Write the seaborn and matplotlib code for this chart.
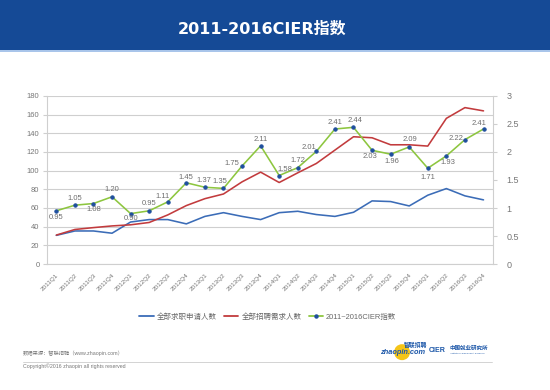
import matplotlib
matplotlib.use("Agg")
import matplotlib.pyplot as plt
from matplotlib.patches import Rectangle, Ellipse
from matplotlib.lines import Line2D
import seaborn as sns
import pandas as pd

# data
quarters = [f"{y}Q{q}" for y in range(2011, 2017) for q in range(1, 5)]
applicants = [30.7, 35.4, 35.4, 33, 45, 47.6, 47.6, 43, 51, 55, 51, 47.6,
              55, 56.5, 53, 51, 55.4, 67.6, 66.9, 62.2, 73.7, 80.8, 73, 68.7]
demand = [31, 37, 39, 40.8, 42, 44.5, 52.6, 62.6, 70, 75, 88, 98.4,
          87.3, 97.7, 107.7, 122, 136.3, 135.2, 127.7, 127.7, 126.3, 156, 167.5, 164]
cier = [0.95, 1.05, 1.08, 1.20, 0.90, 0.95, 1.11, 1.45, 1.37, 1.35, 1.75, 2.11,
        1.58, 1.72, 2.01, 2.41, 2.44, 2.03, 1.96, 2.09, 1.71, 1.93, 2.22, 2.41]
# label offsets (points) for the index annotations
label_off = [(0, -4.5), (0, 4.5), (0, -4.5), (0, 5), (0, -3.5), (0, 5),
             (-3.4, 3.6), (0, 4), (-0.7, 4.8), (-2.4, 4.8), (-7.2, 2), (0, 4.8),
             (4.3, 4.3), (0, 4.8), (-5, 3), (0, 4.8), (1, 4.8), (-1.2, -4.5),
             (0.7, -5.5), (0.5, 5), (0, -7), (1, -4.8), (-6.5, 1), (-3, 4)]

df = pd.DataFrame({"x": range(len(quarters)), "q": quarters,
                   "applicants": applicants, "demand": demand, "cier": cier})

sns.set_style("white")
plt.rcParams['font.family'] = ['Liberation Sans', 'Noto Sans CJK SC']

c_blue = "#3b6cb7"
c_red = "#c23b3d"
c_green = "#8dc63f"
c_dot = "#1f4f9e"
c_grid = "#cfcfcf"
c_text = "#777777"

fig = plt.figure(figsize=(5.5, 3.9), dpi=100)
fig.patch.set_facecolor("white")

# header bar
fig.add_artist(Rectangle((0, 0.872), 1, 0.128, transform=fig.transFigure,
                         facecolor="#154a96", edgecolor="none"))
fig.add_artist(Rectangle((0, 0.866), 1, 0.007, transform=fig.transFigure,
                         facecolor="#a9c5ea", edgecolor="none"))
fig.text(0.476, 0.925, "2011-2016CIER指数", color="white", fontsize=11.5,
         fontweight="bold", ha="center", va="center",
         family=['DejaVu Sans', 'Noto Sans CJK SC'])

ax = fig.add_axes([0.0855, 0.323, 0.8105, 0.431])
sns.lineplot(data=df, x="x", y="applicants", ax=ax, color=c_blue, lw=1.15)
sns.lineplot(data=df, x="x", y="demand", ax=ax, color=c_red, lw=1.15)
ax.set_ylim(0, 180)
ax.set_xlim(-0.5, len(quarters) - 0.5)
ax.set_yticks(range(0, 181, 20))
ax.grid(axis="y", color=c_grid, lw=0.8)
ax.set_axisbelow(True)

ax2 = ax.twinx()
sns.lineplot(data=df, x="x", y="cier", ax=ax2, color=c_green, lw=1.15,
             marker="o", markersize=2.4, markerfacecolor=c_dot,
             markeredgecolor=c_dot)
ax2.set_ylim(0, 3)
ax2.set_yticks([0, 0.5, 1, 1.5, 2, 2.5, 3])
ax2.set_yticklabels(["0", "0.5", "1", "1.5", "2", "2.5", "3"])

for i, v in enumerate(cier):
    ax2.annotate(f"{v:.2f}", (i, v), xytext=label_off[i], textcoords="offset points",
                 ha="center", va="center", fontsize=5.5, color="#6e6e6e")

for a in (ax, ax2):
    a.set_xlabel("")
    a.set_ylabel("")
    for s in a.spines.values():
        s.set_visible(False)
ax.spines["left"].set_visible(True)
ax.spines["bottom"].set_visible(True)
ax2.spines["right"].set_visible(True)
for sp in (ax.spines["left"], ax.spines["bottom"], ax2.spines["right"]):
    sp.set_color(c_grid)
    sp.set_linewidth(0.8)
ax.tick_params(axis="y", length=3, width=0.8, color=c_grid, labelsize=5.5,
               labelcolor=c_text, pad=2.5)
ax2.tick_params(axis="y", length=3, width=0.8, color=c_grid, labelsize=6.5,
                labelcolor=c_text, pad=7)

ax.set_xticks(range(len(quarters)))
ax.set_xticklabels(quarters, rotation=45, ha="right", rotation_mode="anchor",
                   fontsize=4.6, color=c_text)
ax.set_xticks([i - 0.5 for i in range(len(quarters) + 1)], minor=True)
ax.tick_params(axis="x", which="major", length=0, pad=6)
ax.tick_params(axis="x", which="minor", length=3, color=c_grid, width=0.8,
               direction="out")

handles = [Line2D([], [], color=c_blue, lw=1.3),
           Line2D([], [], color=c_red, lw=1.3),
           Line2D([], [], color=c_green, lw=1.3, marker="o", markersize=2.2,
                  markerfacecolor=c_dot, markeredgecolor=c_dot)]
fig.legend(handles, ["全部求职申请人数", "全部招聘需求人数", "2011~2016CIER指数"],
           loc="center", bbox_to_anchor=(0.487, 0.187), ncol=3, frameon=False,
           fontsize=5.4, handlelength=1.9, columnspacing=1.0, handletextpad=0.4,
           labelcolor="#666666")

# footer
fig.text(0.042, 0.093, "数据来源：智联招聘（www.zhaopin.com）", fontsize=3.8,
         color="#777777", va="center")
fig.add_artist(Line2D([0.042, 0.895], [0.072, 0.072], transform=fig.transFigure,
                      color="#cccccc", lw=0.6))
fig.text(0.042, 0.06, "Copyright©2016 zhaopin all rights reserved", fontsize=3.8,
         color="#777777", va="center")

# logos (approximated with text)
fig.add_artist(Ellipse((0.731, 0.097), 16 / 550, 16 / 390, transform=fig.transFigure,
                       facecolor="#f5c518", edgecolor="none"))
fig.text(0.691, 0.097, "zhaopin.com", fontsize=5.3, color="#1b56a8",
         fontweight="bold", style="italic", va="center")
fig.text(0.735, 0.116, "智联招聘", fontsize=4.2, color="#1b56a8", fontweight="bold",
         va="center")
fig.text(0.78, 0.102, "CIER", fontsize=5.0, color="#1b56a8", fontweight="bold",
         va="center")
fig.text(0.818, 0.106, "中国就业研究所", fontsize=4.0, color="#1b56a8",
         fontweight="bold", va="center")
fig.text(0.818, 0.093, "Institute for Employment Research", fontsize=1.6,
         color="#1b56a8", va="center")

fig.savefig("out.png", dpi=100)
